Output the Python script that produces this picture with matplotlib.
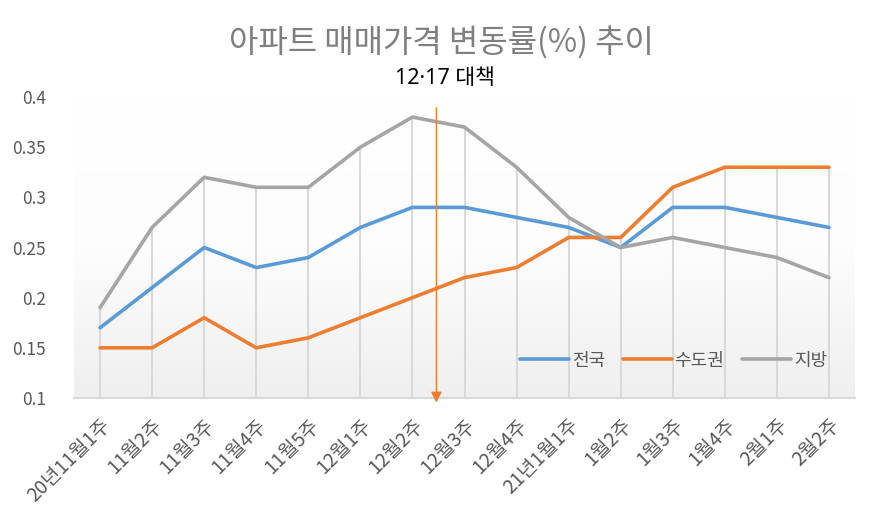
import matplotlib
matplotlib.use("Agg")
import matplotlib.pyplot as plt
import numpy as np
from matplotlib.colors import LinearSegmentedColormap

plt.rcParams['font.family'] = ['Noto Sans CJK KR', 'DejaVu Sans']

categories = ["20년11월1주", "11월2주", "11월3주", "11월4주", "11월5주", "12월1주", "12월2주",
              "12월3주", "12월4주", "21년1월1주", "1월2주", "1월3주", "1월4주", "2월1주", "2월2주"]
national = [0.17, 0.21, 0.25, 0.23, 0.24, 0.27, 0.29, 0.29, 0.28, 0.27, 0.25, 0.29, 0.29, 0.28, 0.27]
capital = [0.15, 0.15, 0.18, 0.15, 0.16, 0.18, 0.20, 0.22, 0.23, 0.26, 0.26, 0.31, 0.33, 0.33, 0.33]
regional = [0.19, 0.27, 0.32, 0.31, 0.31, 0.35, 0.38, 0.37, 0.33, 0.28, 0.25, 0.26, 0.25, 0.24, 0.22]
series_names = ["전국", "수도권", "지방"]
yticks = [0.1, 0.15, 0.2, 0.25, 0.3, 0.35, 0.4]
ytick_labels = ["0.1", "0.15", "0.2", "0.25", "0.3", "0.35", "0.4"]
policy_pos = 6.46
policy_label = "12·17 대책"

colors = ["#5B9BD5", "#ED7D31", "#A5A5A5"]

fig = plt.figure(figsize=(8.79, 5.27), dpi=100)
ax = fig.add_axes([0.0842, 0.2448, 0.8885, 0.5711])
x = np.arange(len(categories))
ax.set_xlim(-0.5, len(categories) - 0.5)
ax.set_ylim(0.1, 0.4)

# gradient background (white at top, light gray at bottom)
grad = np.linspace(1, 0, 256).reshape(-1, 1)
cmap = LinearSegmentedColormap.from_list("g", ["#FFFFFF", "#FDFDFD", "#EFEFEF"])
ax.imshow(grad, aspect='auto', cmap=cmap, extent=[-0.5, len(categories) - 0.5, 0.1, 0.4],
          origin='lower', zorder=0)

# drop lines
tops = np.maximum(np.maximum(national, capital), regional)
ax.vlines(x, 0.1, tops, color="#D9D9D9", lw=1.5, zorder=1)

for vals, c, n in zip([national, capital, regional], colors, series_names):
    ax.plot(x, vals, color=c, lw=2.6, label=n, zorder=3, solid_capstyle='round')

for s in ["top", "right", "left"]:
    ax.spines[s].set_visible(False)
ax.spines["bottom"].set_color("#D9D9D9")
ax.spines["bottom"].set_linewidth(1.5)

ax.set_yticks(yticks)
ax.set_yticklabels(ytick_labels, fontsize=12.5, color="#595959")
ax.tick_params(axis='y', length=0, pad=20)
ax.set_xticks(x)
ax.set_xticklabels(categories, rotation=45, ha='right', rotation_mode='anchor',
                   fontsize=14, color="#595959")
ax.tick_params(axis='x', length=0, pad=12)

# policy arrow
ax.annotate("", xy=(policy_pos, 0.0925), xytext=(policy_pos, 0.392),
            xycoords='data', textcoords='data',
            arrowprops=dict(arrowstyle="-|>", color="#ED7D31", lw=1.0, mutation_scale=16),
            annotation_clip=False, zorder=4)
fig.text(445 / 879, 1 - 78 / 527, policy_label, ha='center', va='center', fontsize=15.5,
         color="#000000", family=['Noto Sans', 'Noto Sans CJK KR'])

fig.text(441 / 879, 1 - 42 / 527, "아파트 매매가격 변동률(%) 추이", ha='center', va='center',
         fontsize=23, color="#7F7F7F")

leg = ax.legend(loc='lower right', bbox_to_anchor=(0.985, 0.04), ncol=3, frameon=False,
                fontsize=13, handlelength=2.7, handletextpad=0.15, columnspacing=1.0)
for t in leg.get_texts():
    t.set_color("#595959")

fig.savefig("out.png", dpi=100)
